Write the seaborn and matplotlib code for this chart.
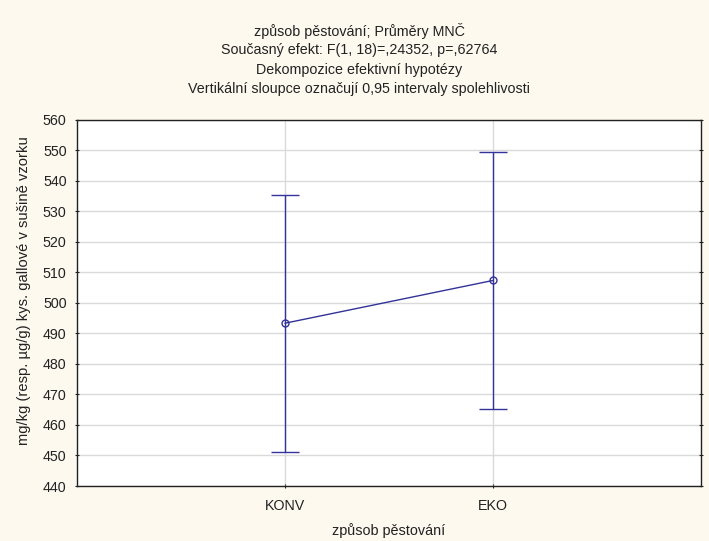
import matplotlib
matplotlib.use("Agg")
import matplotlib.pyplot as plt
import seaborn as sns
import pandas as pd

categories = ["KONV", "EKO"]
means = [493.3, 507.3]
ci_low = [451.2, 465.2]
ci_high = [535.4, 549.3]

title_lines = [
    "způsob pěstování; Průměry MNČ",
    "Současný efekt: F(1, 18)=,24352, p=,62764",
    "Dekompozice efektivní hypotézy",
    "Vertikální sloupce označují 0,95 intervaly spolehlivosti",
]
xlabel = "způsob pěstování"
ylabel = "mg/kg (resp. µg/g) kys. gallové v sušině vzorku"

sns.set_style("white")
plt.rcParams["font.family"] = ["Liberation Sans", "DejaVu Sans"]

bg = "#FDF9EF"
line_col = "#33339A"
txt = "#222222"

fig = plt.figure(figsize=(7.09, 5.41), dpi=100, facecolor=bg)
ax = fig.add_axes([77 / 709, 55 / 541, 624 / 709, 366.5 / 541])
ax.set_facecolor("white")

df = pd.DataFrame({"cat": categories, "mean": means})
sns.pointplot(data=df, x="cat", y="mean", order=categories, errorbar=None,
              color=line_col, markers="o", linewidth=1.0, markersize=5,
              markerfacecolor="none", markeredgewidth=1.0, ax=ax, zorder=3)

xs = range(len(categories))
yerr = [[m - lo for m, lo in zip(means, ci_low)], [hi - m for m, hi in zip(means, ci_high)]]
ax.errorbar(list(xs), means, yerr=yerr, fmt="none", ecolor=line_col,
            elinewidth=1.0, capsize=10, capthick=1.0, zorder=2)

ax.set_xlim(-1, 2)
ax.set_ylim(440, 560)
ax.set_yticks(range(440, 561, 10))
ax.grid(True, color="#DADADA", linewidth=1.0)
ax.set_axisbelow(True)

for s in ax.spines.values():
    s.set_visible(True)
    s.set_color(txt)
    s.set_linewidth(1.0)

ax.tick_params(axis="both", labelsize=10.3, colors=txt, length=3, width=0.8)
ax.tick_params(axis="y", left=True, right=True, direction="inout", pad=6)
ax.tick_params(axis="x", bottom=True, direction="inout", pad=8)
ax.set_xlabel(xlabel, fontsize=10.4, color=txt, labelpad=7)
ax.set_ylabel("")

fig.text(24 / 709, 1 - 291 / 541, ylabel, rotation=90, ha="center", va="center",
         fontsize=10.6, color=txt)

cx = 359 / 709
for i, t in enumerate(title_lines):
    fig.text(cx, 1 - (31 + i * 19.3) / 541, t, ha="center", va="center",
             fontsize=10.3, color=txt)

fig.savefig("out.png", dpi=100, facecolor=bg)
